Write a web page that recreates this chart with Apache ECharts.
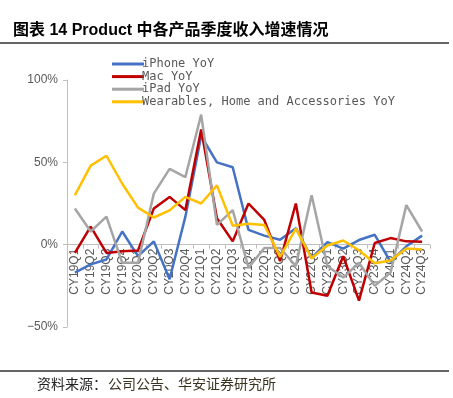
<!DOCTYPE html>
<html><head><meta charset="utf-8">
<script src="https://cdn.jsdelivr.net/npm/echarts@6/dist/echarts.min.js"></script>
<style>html,body{margin:0;padding:0;background:#fff}#c{width:453px;height:398px}</style>
</head><body><div id="c"></div>
<script>
var categories = ['CY19Q1','CY19Q2','CY19Q3','CY19Q4','CY20Q1','CY20Q2','CY20Q3','CY20Q4','CY21Q1','CY21Q2','CY21Q3','CY21Q4','CY22Q1','CY22Q2','CY22Q3','CY22Q4','CY23Q1','CY23Q2','CY23Q3','CY23Q4','CY24Q1','CY24Q2','CY24Q3'];
var iphoneYoY = [-17, -12, -9, 8, -7, 2, -21, 17, 66, 50, 47, 9, 5.5, 3, 10, -8, 1.5, -2.4, 2.8, 6, -10.5, -1, 5.5];
var macYoY = [-5, 11, -5, -4, -3.5, 22, 29, 21, 70, 16, 2, 25, 15, -10, 25, -29, -31, -7, -34, 1, 4, 2, 1.7];
var ipadYoY = [22, 8, 17, -11, -11, 31, 46, 41, 79, 12, 21, -14, -2, -2, -13, 30, -13, -20, -11, -25, -17, 24, 8];
var wearablesYoY = [30, 48, 54, 37, 22.5, 16.5, 20.8, 29, 25, 36, 11.5, 12.7, 12, -7.5, 9.8, -8.3, -0.5, 2.5, -3.4, -11.3, -9.6, -2.4, -3];
var seriesNames = ['iPhone YoY', 'Mac YoY', 'iPad YoY', 'Wearables, Home and Accessories YoY'];
var yTicks = [-50, 0, 50, 100];

var colors = ['#4472C4', '#C00000', '#A5A5A5', '#FFC000'];
var dataSets = [iphoneYoY, macYoY, ipadYoY, wearablesYoY];

var gridTop = 80, gridBottom = 71, H = 398;
var yMin = yTicks[0], yMax = yTicks[yTicks.length - 1];
var gridH = H - gridTop - gridBottom;
var zeroOffset = gridH * (0 - yMin) / (yMax - yMin);

var chart = echarts.init(document.getElementById('c'), null, {renderer: 'canvas'});
chart.setOption({
  animation: false,
  backgroundColor: '#fff',
  color: colors,
  graphic: [
    {type: 'text', left: 13, top: 23, style: {text: '图表 14 Product 中各产品季度收入增速情况', font: 'bold 16px "Liberation Sans", "Noto Sans CJK SC"', fill: '#000'}},
    {type: 'line', shape: {x1: 0, y1: 43, x2: 449, y2: 43}, style: {stroke: '#333', lineWidth: 1.5}},
    {type: 'line', shape: {x1: 0, y1: 371, x2: 449, y2: 371}, style: {stroke: '#333', lineWidth: 1.5}},
    {type: 'text', left: 37, top: 377, style: {text: '资料来源：', font: '14px "Noto Sans CJK SC"', fill: '#222'}},
    {type: 'text', left: 108, top: 377, style: {text: '公司公告、华安证券研究所', font: '14px "Noto Sans CJK SC"', fill: '#3a3320'}}
  ],
  legend: {
    orient: 'vertical',
    left: 107,
    top: 53,
    icon: 'rect',
    itemWidth: 32,
    itemHeight: 3,
    itemGap: 0.6,
    data: seriesNames,
    textStyle: {fontFamily: '"DejaVu Sans Mono", monospace', fontSize: 12, color: '#595959', padding: [0, 0, 0, -7], lineHeight: 12}
  },
  grid: {left: 67, right: 23, top: gridTop, bottom: gridBottom, containLabel: false},
  xAxis: {
    type: 'category',
    data: categories,
    boundaryGap: true,
    offset: -zeroOffset,
    axisLine: {onZero: false, lineStyle: {color: '#bfbfbf', width: 1}},
    axisTick: {show: true, length: 4, lineStyle: {color: '#bfbfbf'}},
    axisLabel: {rotate: 90, interval: 0, margin: 4, fontFamily: '"Liberation Sans", Arial', fontSize: 12, color: '#595959'}
  },
  yAxis: {
    type: 'value',
    min: yMin,
    max: yMax,
    interval: 50,
    splitLine: {show: false},
    axisLine: {show: true, lineStyle: {color: '#bfbfbf', width: 1}},
    axisTick: {show: true, length: 4, lineStyle: {color: '#bfbfbf'}},
    axisLabel: {margin: 9, fontFamily: '"Liberation Sans", Arial', fontSize: 12, color: '#595959',
      formatter: function (v) { return (v < 0 ? '\u2212' : '') + Math.abs(v) + '%'; }}
  },
  series: seriesNames.map(function (n, i) {
    return {name: n, type: 'line', data: dataSets[i], showSymbol: false, symbol: 'none', smooth: false, z: 3,
      lineStyle: {width: 2.5, color: colors[i]}, itemStyle: {color: colors[i]}};
  })
});
</script></body></html>
